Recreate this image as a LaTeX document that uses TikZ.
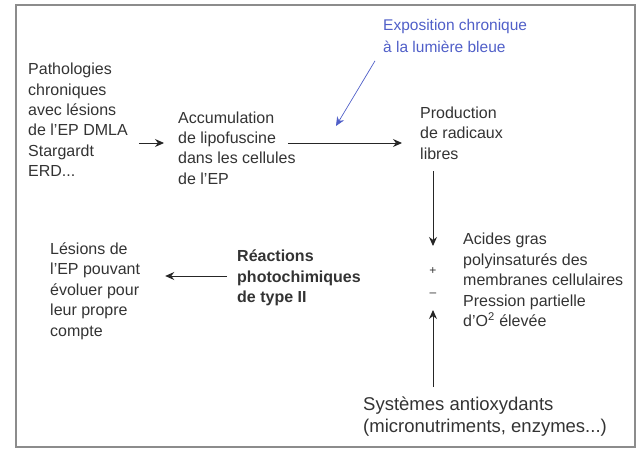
\documentclass[tikz,border=0pt]{standalone}
\usepackage{fontspec}
\setmainfont{Liberation Sans}
\usetikzlibrary{calc,arrows.meta}
\definecolor{framegray}{gray}{0.55}
\definecolor{textgray}{gray}{0.2}
\definecolor{lightblue}{RGB}{80,95,200}
\tikzset{
  txt/.style={anchor=west,align=left,inner sep=0pt,text=textgray,
    font=\fontsize{16}{20.4}\selectfont},
  sign/.style={inner sep=0pt,text=textgray,font=\fontsize{12}{12}\selectfont},
  arr/.style={->,>={Stealth[length=9pt,width=8pt]},line width=0.9pt,black!85}
}
\begin{document}
\begin{tikzpicture}[x=1pt,y=-1pt]

    % frame
    \useasboundingbox (0,0) rectangle (641,449);
    \draw [framegray,line width=1.5pt] (16,5) rectangle (635,447);

    % add labels
    \node [txt] (patho) at (28,120) {Pathologies\\chroniques\\avec lésions\\de l'EP DMLA\\Stargardt\\ERD...};
    \node [txt] (accu) at (178,148) {Accumulation\\de lipofuscine\\dans les cellules\\de l'EP};
    \node [txt] (radic) at (420,133) {Production\\de radicaux\\libres};
    \node [txt,text=lightblue,font=\fontsize{15.5}{22}\selectfont] (expo) at (383,36) {Exposition chronique\\à la lumière bleue};
    \node [txt] (acides) at (463,280) {Acides gras\\polyinsaturés des\\membranes cellulaires\\Pression partielle\\d'O\textsuperscript{2} élevée};
    \node [txt,font=\bfseries\fontsize{16}{20.4}\selectfont] (reac) at (237,278) {Réactions\\photochimiques\\de type II};
    \node [txt] (lesion) at (50,291) {Lésions de\\l'EP pouvant\\évoluer pour\\leur propre\\compte};
    \node [txt,font=\fontsize{18.5}{22}\selectfont] (antiox) at (363,417) {Systèmes antioxydants\\(micronutriments, enzymes...)};
    \node [sign] (plus) at (433,271) {+};
    \node [sign] (minus) at (433,295) {--};

    % draw arrows
    \coordinate (lum) at (336,126);
    \draw [arr,shorten <=11pt,shorten >=14pt] ($(patho.east |- accu.west)+(0,-5)$) -- ($(accu.west)+(0,-5)$);
    \draw [arr,shorten >=18pt] ($(accu.east)+(-8,-5)$) -- ($(accu.east -| radic.west)+(0,-5)$);
    \draw [arr,lightblue,line width=0.7pt] ($(expo.south west)+(-8,8)$) -- (lum);
    \draw [arr,shorten <=12pt,shorten >=25pt] (radic.south -| plus.center) -- (plus.center);
    \draw [arr,shorten <=10pt,shorten >=15pt] (antiox.north -| minus.center) -- (minus.center);
    \draw [arr,shorten <=10pt,shorten >=25pt] ($(reac.west)+(0,-2)$) -- ($(reac.west -| lesion.east)+(0,-2)$);

\end{tikzpicture}
\end{document}
